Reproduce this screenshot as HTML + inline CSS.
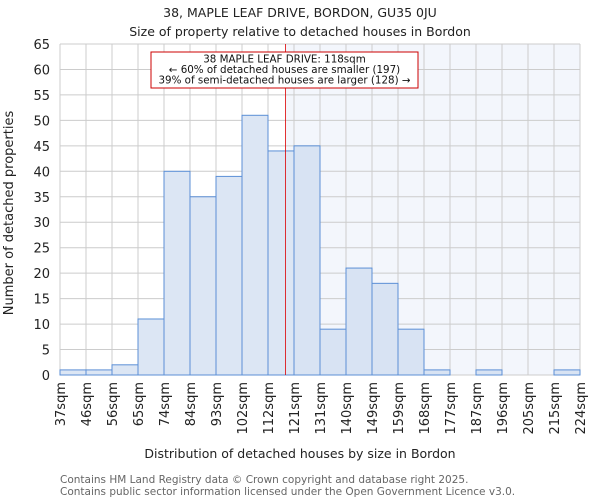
<!DOCTYPE html>
<html><head><meta charset="utf-8"><style>
body{margin:0;background:#fff;font-family:"DejaVu Sans","Liberation Sans",sans-serif}
</style></head><body>
<svg width="600" height="500" xmlns="http://www.w3.org/2000/svg" font-family="DejaVu Sans, Liberation Sans, sans-serif">
<text x="300" y="17" text-anchor="middle" font-size="12.5" fill="#222">38, MAPLE LEAF DRIVE, BORDON, GU35 0JU</text>
<text x="300" y="36" text-anchor="middle" font-size="12.5" fill="#222">Size of property relative to detached houses in Bordon</text>
<g id="plot"></g>
<text x="300" y="458" text-anchor="middle" font-size="12.5" fill="#222">Distribution of detached houses by size in Bordon</text>
<text transform="translate(13,213) rotate(-90)" text-anchor="middle" font-size="13" fill="#222">Number of detached properties</text>
<text x="60" y="483" font-size="10.5" fill="#666">Contains HM Land Registry data © Crown copyright and database right 2025.</text>
<text x="60" y="495" font-size="10.5" fill="#666">Contains public sector information licensed under the Open Government Licence v3.0.</text>
</svg>
<script>
const binLabels=["37sqm","46sqm","56sqm","65sqm","74sqm","84sqm","93sqm","102sqm","112sqm","121sqm","131sqm","140sqm","149sqm","159sqm","168sqm","177sqm","187sqm","196sqm","205sqm","215sqm","224sqm"];
const counts=[1,1,2,11,40,35,39,51,44,45,9,21,18,9,1,0,1,0,0,1];
const yTicks=[0,5,10,15,20,25,30,35,40,45,50,55,60,65];
const markerBin=8.67;
const NS="http://www.w3.org/2000/svg";
const g=document.getElementById('plot');
const X0=60,X1=580,Y0=375,Y1=44,YMAX=65;
const bw=(X1-X0)/counts.length;
const xs=i=>X0+i*bw;
const ys=v=>Y0-(v/YMAX)*(Y0-Y1);
function mk(t,a){const e=document.createElementNS(NS,t);for(const k in a)e.setAttribute(k,a[k]);g.appendChild(e);return e;}
const mx=xs(markerBin);
const hl=mk('rect',{x:mx,y:Y1,width:X1-mx,height:Y0-Y1,fill:'#f3f6fc'});


for(let i=0;i<binLabels.length;i++){const l=mk('line',{x1:xs(i),x2:xs(i),y1:Y1,y2:Y0,stroke:'#ccc','stroke-width':1});

}
yTicks.forEach(v=>{const l=mk('line',{x1:X0,x2:X1,y1:ys(v),y2:ys(v),stroke:'#ccc','stroke-width':1});


const t=mk('text',{x:X0-10,y:ys(v)+5,'text-anchor':'end','font-size':13,fill:'#222'});t.textContent=v;

});
counts.forEach((c,i)=>{if(c<=0)return;const r=mk('rect',{x:xs(i),y:ys(c),width:bw,height:Y0-ys(c),fill:(i>=9?'#d8e3f3':'#dce6f4'),stroke:'#5b8fd6','stroke-width':1});

});
binLabels.forEach((s,i)=>{const t=mk('text',{transform:`translate(${xs(i)+5},382) rotate(-90)`,'text-anchor':'end','font-size':13,fill:'#222'});t.textContent=s;

});
const ml=mk('line',{x1:mx,x2:mx,y1:Y1,y2:Y0,stroke:'#d00','stroke-width':0.8});


const box=mk('rect',{x:151,y:52,width:267,height:36,fill:'#fff',stroke:'#c00','stroke-width':1});


["38 MAPLE LEAF DRIVE: 118sqm","← 60% of detached houses are smaller (197)","39% of semi-detached houses are larger (128) →"].forEach((s,k)=>{const t=mk('text',{x:284.5,y:62.5+k*10.5,'text-anchor':'middle','font-size':10.3,fill:'#111'});t.textContent=s;

});
</script>
</body></html>
